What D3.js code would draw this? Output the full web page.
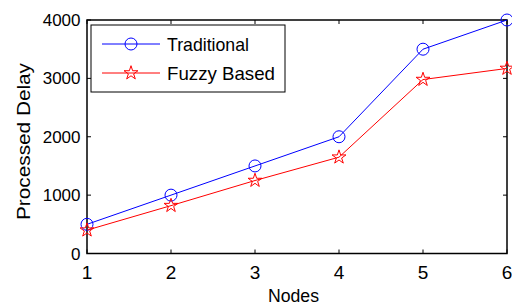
<!DOCTYPE html>
<html><head><meta charset="utf-8">
<script src="https://cdn.jsdelivr.net/npm/d3@7"></script>
<style>body{margin:0;background:#fff}svg{display:block}text{font-family:"Liberation Sans",Arial,sans-serif;fill:#000}</style>
</head><body>
<svg id="c" width="512" height="306"></svg>
<script>
const nodes = [1, 2, 3, 4, 5, 6];
const traditional = [500, 1000, 1500, 2000, 3500, 4000];
const fuzzy = [400, 820, 1250, 1650, 2980, 3170];
const yTicks = [0, 1000, 2000, 3000, 4000];
const seriesNames = ["Traditional", "Fuzzy Based"];

const svg = d3.select("#c");
const L = 87, R = 507, T = 20, B = 253.5;
const x = d3.scaleLinear().domain([1, 6]).range([L, R]);
const y = d3.scaleLinear().domain([0, 4000]).range([B, T]);

const g = svg.append("g");
g.append("rect").attr("x", L).attr("y", T).attr("width", R - L).attr("height", B - T)
  .attr("fill", "none").attr("stroke", "#000").attr("stroke-width", 1.5);

const tk = 4;
nodes.forEach(v => {
  g.append("line").attr("x1", x(v)).attr("x2", x(v)).attr("y1", B).attr("y2", B - tk).attr("stroke", "#000");
  g.append("line").attr("x1", x(v)).attr("x2", x(v)).attr("y1", T).attr("y2", T + tk).attr("stroke", "#000");
  g.append("text").attr("x", x(v)).attr("y", 278.5).attr("text-anchor", "middle").attr("font-size", 19).text(v);
});
yTicks.forEach(v => {
  g.append("line").attr("x1", L).attr("x2", L + tk).attr("y1", y(v)).attr("y2", y(v)).attr("stroke", "#000");
  g.append("line").attr("x1", R).attr("x2", R - tk).attr("y1", y(v)).attr("y2", y(v)).attr("stroke", "#000");
  g.append("text").attr("x", 80.5).attr("y", y(v) + 6).attr("text-anchor", "end").attr("font-size", 17).text(v);
});

g.append("text").attr("x", 293.5).attr("y", 302).attr("text-anchor", "middle").attr("font-size", 18)
  .attr("textLength", 51).attr("lengthAdjust", "spacingAndGlyphs").text("Nodes");
g.append("text").attr("transform", "translate(29.5,141.5) rotate(-90)").attr("text-anchor", "middle").attr("font-size", 18.5)
  .attr("textLength", 157).attr("lengthAdjust", "spacingAndGlyphs").text("Processed Delay");

const line = d3.line().x((d, i) => x(nodes[i])).y(d => y(d));
const star = d3.symbol().type(d3.symbolStar).size(60);

function drawSeries(data, color, marker) {
  g.append("path").attr("d", line(data)).attr("fill", "none").attr("stroke", color).attr("stroke-width", 1);
  data.forEach((d, i) => {
    if (marker === "circle") {
      g.append("circle").attr("cx", x(nodes[i])).attr("cy", y(d)).attr("r", 6).attr("fill", "none").attr("stroke", color);
    } else {
      g.append("path").attr("d", star()).attr("transform", `translate(${x(nodes[i])},${y(d)})`).attr("fill", "none").attr("stroke", color);
    }
  });
}
drawSeries(traditional, "#0000ff", "circle");
drawSeries(fuzzy, "#ff0000", "star");

const lg = g.append("g");
lg.append("rect").attr("x", 91).attr("y", 25).attr("width", 194).attr("height", 67).attr("fill", "#fff").attr("stroke", "#000").attr("stroke-width", 1);
const rows = [{n: seriesNames[0], c: "#0000ff", m: "circle", y: 44, w: 82}, {n: seriesNames[1], c: "#ff0000", m: "star", y: 73, w: 108}];
rows.forEach(r => {
  lg.append("line").attr("x1", 102).attr("x2", 160).attr("y1", r.y).attr("y2", r.y).attr("stroke", r.c);
  if (r.m === "circle") lg.append("circle").attr("cx", 131).attr("cy", r.y).attr("r", 6).attr("fill", "none").attr("stroke", r.c);
  else lg.append("path").attr("d", star()).attr("transform", `translate(131,${r.y})`).attr("fill", "none").attr("stroke", r.c);
  lg.append("text").attr("x", 167).attr("y", r.y + 7).attr("font-size", 19)
    .attr("textLength", r.w).attr("lengthAdjust", "spacingAndGlyphs").text(r.n);
});
</script>
</body></html>
